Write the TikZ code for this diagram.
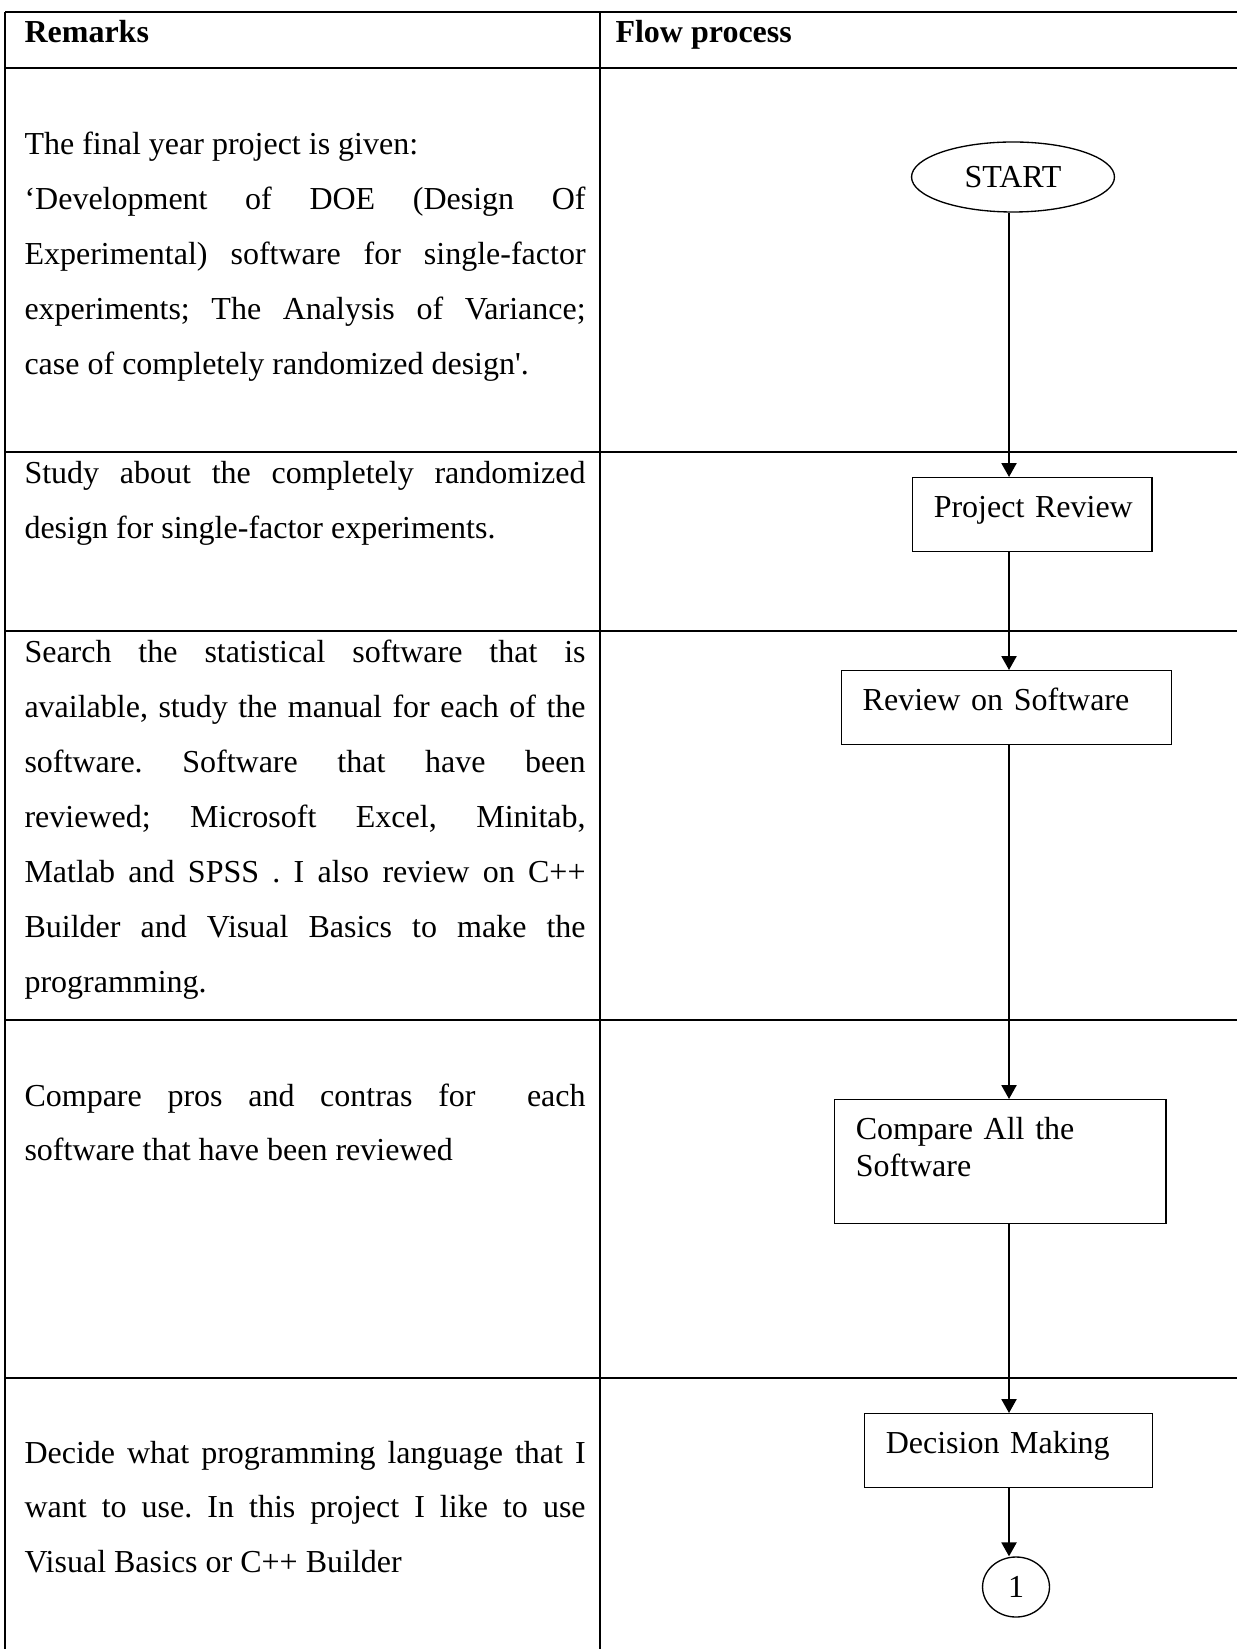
\documentclass[tikz,border=0pt]{standalone}
\usepackage{fontspec}
\setmainfont{Liberation Serif}
\usetikzlibrary{arrows.meta,shapes.geometric}

\tikzset{
  rule/.style={line width=0.6pt},
  head/.style={anchor=base west, inner sep=0pt, font=\fontsize{12}{14}\selectfont\bfseries},
  remark/.style={anchor=base west, inner sep=0pt, text width=210.4pt, align=justify,
    font=\fontsize{12}{20.6}\selectfont\frenchspacing},
  flowbox/.style={draw, line width=0.5pt, anchor=north west, align=left,
    text width=#1, inner xsep=7.9pt, inner ysep=0pt, text height=15pt, text depth=12.75pt,
    font=\fontsize{12}{13.9}\selectfont},
  terminal/.style={draw, ellipse, line width=0.5pt, inner sep=0pt, font=\fontsize{12}{14}\selectfont},
  flowarrow/.style={line width=0.8pt, -{Triangle[width=5.6pt,length=5.2pt]}}
}

\begin{document}
\begin{tikzpicture}[x=0.375pt, y=-0.375pt]
    \useasboundingbox (0,0) rectangle (1237,1649);
    % table
    \draw[rule] (5,12) -- (1237,12);
    \draw[rule] (5,68) -- (1237,68);
    \draw[rule] (5,452) -- (1237,452);
    \draw[line width=1.1pt] (5,631) -- (1237,631);
    \draw[rule] (5,1020) -- (1237,1020);
    \draw[rule] (5,1378) -- (1237,1378);
    \draw[rule] (5,12) -- (5,1649);
    \draw[rule] (600,12) -- (600,1649);
    \node[head] (hRem) at (24,43) {Remarks};
    \node[head] (hFlow) at (615,43) {Flow process};

    % remarks column
    \node[remark] (r1) at (24,155) {The final year project is given:\\
      ‘Development of DOE (Design Of\linebreak
      Experimental) software for single-factor\linebreak
      experiments; The Analysis of Variance;\linebreak
      case of completely randomized design\textquotesingle.};
    \node[remark] (r2) at (24,484) {Study about the completely randomized\linebreak
      design for single-factor experiments.};
    \node[remark] (r3) at (24,663) {Search the statistical software that is\linebreak
      available, study the manual for each of the\linebreak
      software. Software that have been\linebreak
      reviewed; Microsoft Excel, Minitab,\linebreak
      Matlab and SPSS . I also review on C++\linebreak
      Builder and Visual Basics to make the\linebreak
      programming.};
    \node[remark] (r4) at (24,1106) {Compare pros and contras for\ \ each\linebreak
      software that have been reviewed};
    \node[remark] (r5) at (24,1463) {Decide what programming language that I\linebreak
      want to use. In this project I like to use\linebreak
      Visual Basics or C++ Builder};

    % flow process column
    \node[terminal, minimum width=76.1pt, minimum height=26.25pt] (start) at (1013,177) {START};
    \node[flowbox=73.9pt] (prj) at (912,477) {\mbox{Project Review}};
    \node[flowbox=108pt] (rev) at (841,670) {Review on Software};
    \node[flowbox=108.4pt, text depth=31.5pt] (cmp) at (834,1099)
      {Compare All the\\Software};
    \node[flowbox=92.25pt] (dec) at (864,1413) {Decision Making};
    \node[terminal, minimum width=25.1pt, minimum height=22.5pt] (con) at (1016,1587) {1};

    \coordinate (axis) at (1009,0);
    \draw[flowarrow] (start.south -| axis) -- (prj.north -| axis);
    \draw[flowarrow] (prj.south -| axis) -- (rev.north -| axis);
    \draw[flowarrow] (rev.south -| axis) -- (cmp.north -| axis);
    \draw[flowarrow] (cmp.south -| axis) -- (dec.north -| axis);
    \draw[flowarrow] (dec.south -| axis) -- (con.north -| axis);
\end{tikzpicture}
\end{document}
